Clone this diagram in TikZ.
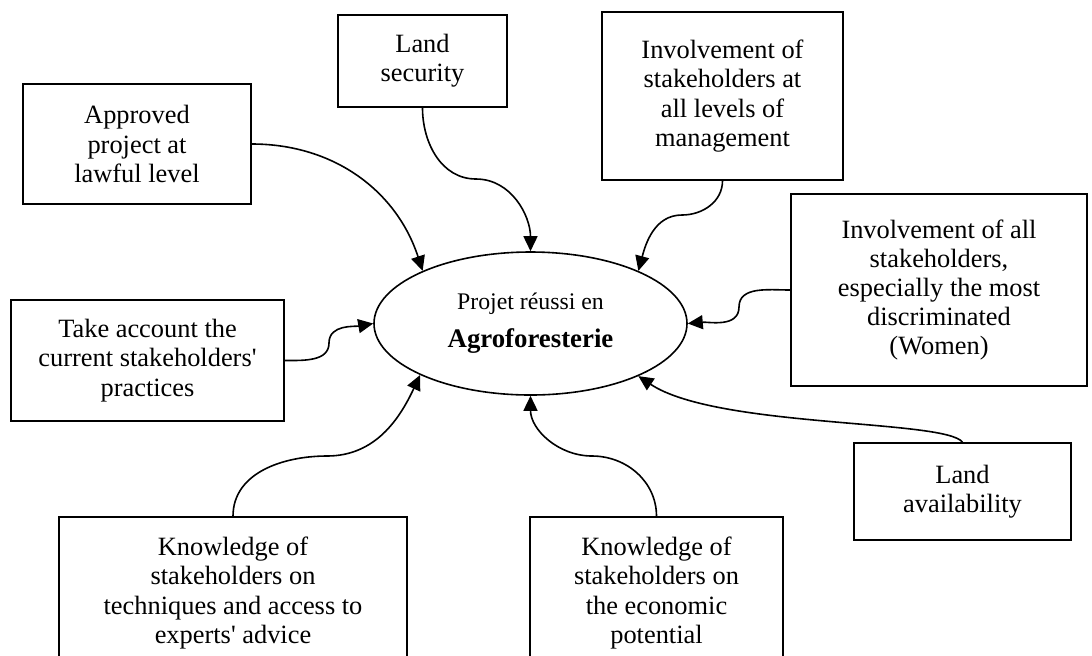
\documentclass[tikz,border=0pt]{standalone}
\usepackage{fontspec}
\setmainfont{Liberation Serif}[Ligatures=TeXOff]
\usetikzlibrary{arrows.meta,shapes.geometric}
\tikzset{
  factorbox/.style={draw, line width=0.8pt, align=center, inner sep=2pt,
    font=\fontsize{13.2}{14.6}\selectfont},
  goaloval/.style={draw, ellipse, line width=0.8pt, align=center, inner sep=0pt,
    minimum width=156.5pt, minimum height=71.5pt, font=\fontsize{13.4}{14}\selectfont},
  linkln/.style={-{Triangle[length=7.5pt,width=7pt]}, line width=0.8pt},
}

\begin{document}
\begin{tikzpicture}[x=0.5pt,y=-0.5pt]
  \useasboundingbox (0,0) rectangle (1092,655);
  % --- centre: the goal ---
  \node[goaloval] (projet) at (530.5,323.5)
    {{\fontsize{11.9}{13}\selectfont Projet réussi en}\\[5pt]\textbf{Agroforesterie}};
  % --- factors, top row ---
  \node[factorbox, minimum width=114pt, minimum height=60pt] (approved) at (137,144)
    {Approved\\project at\\lawful level};
  \node[factorbox, minimum width=84.5pt, minimum height=46pt] (landsec) at (422.5,61)
    {Land\\security};
  \node[factorbox, minimum width=120.5pt, minimum height=84pt] (involvlev) at (722.5,96)
    {Involvement of\\stakeholders at\\all levels of\\management};
  % --- factors, sides ---
  \node[factorbox, minimum width=136.5pt, minimum height=60.5pt] (practices) at (147.5,360.5)
    {Take account the\\current stakeholders'\\practices};
  \node[factorbox, minimum width=148pt, minimum height=96pt] (involvall) at (939,290)
    {Involvement of all\\stakeholders,\\especially the most\\discriminated\\(Women)};
  \node[factorbox, minimum width=108.5pt, minimum height=48.5pt] (landavail) at (962.5,491.5)
    {Land\\availability};
  % --- factors, bottom row (cut by the page edge) ---
  \node[factorbox, minimum width=174pt, minimum height=76pt] (knowtech) at (233,593)
    {Knowledge of\\stakeholders on\\techniques and access to\\experts' advice};
  \node[factorbox, minimum width=126.5pt, minimum height=76pt] (knoweco) at (656.5,593)
    {Knowledge of\\stakeholders on\\the economic\\potential};
  % --- links into the goal ---
  \draw[linkln] (approved.east) to[out=0,in=108] (projet.154);
  \draw[linkln] (landsec.south) to[out=-90,in=180] (476,179) to[out=0,in=90] (projet.90);
  \draw[linkln] (involvlev.south) to[out=-90,in=0] (682,215) to[out=180,in=75] (projet.26);
  \draw[linkln] (involvall.west) to[out=180,in=90] (739,307) to[out=-90,in=5] (projet.0);
  \draw[linkln] (practices.east) to[out=0,in=-90] (329,343) to[out=90,in=190] (projet.180);
  \draw[linkln] (landavail.north) .. controls +(-17,-23) and +(78,52) .. (projet.-26);
  \draw[linkln] (knowtech.north) to[out=90,in=180] (327,456) to[out=0,in=-115] (projet.205);
  \draw[linkln] (knoweco.north) to[out=90,in=0] (592,456) to[out=180,in=-90] (projet.270);
\end{tikzpicture}
\end{document}
